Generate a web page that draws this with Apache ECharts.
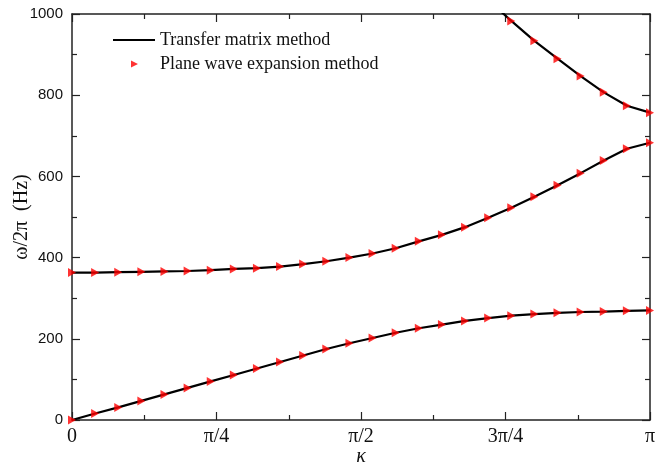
<!DOCTYPE html>
<html>
<head>
<meta charset="utf-8">
<title>Band structure</title>
<script src="https://cdn.jsdelivr.net/npm/echarts@6/dist/echarts.min.js"></script>
<style>
  html, body { margin: 0; padding: 0; background: #fff; }
  #chart { width: 672px; height: 466px; }
</style>
</head>
<body>
<div id="chart"></div>
<script>
// Wave number samples, in units of pi (0 .. 1, 26 points)
const kappaSteps = 25;
// Band frequencies (Hz) at each wave-number sample
const band1 = [0, 16, 31, 47, 63, 79, 95, 111, 127, 143, 159, 175, 189, 202, 215, 226, 235, 244, 251, 257, 261, 264, 266, 267, 269, 270];
const band2 = [363, 363, 364, 365, 366, 367, 369, 372, 374, 378, 384, 391, 400, 410, 423, 440, 456, 475, 498, 523, 550, 578, 608, 639, 668, 683];
const band3 = [null, null, null, null, null, null, null, null, null, null, null, null, null, null, null, null, null, null, 1035, 983, 934, 890, 847, 807, 774, 757];
// Tick labels on the wave-number axis
const kappaTickLabels = ['0', 'π/4', 'π/2', '3π/4', 'π'];
const lineName = 'Transfer matrix method';
const pointName = 'Plane wave expansion method';

function pairs(values) {
  const out = [];
  values.forEach(function (v, i) {
    if (v !== null) out.push([i / kappaSteps, v]);
  });
  return out;
}

const serif = 'Liberation Serif, Times New Roman, serif';
const sans = 'Liberation Sans, Arial, sans-serif';
const axisColor = '#222';
const triangle = 'path://M0,0L10,5L0,10Z';
// legend glyphs spanning the full 42x8 legend icon box
const legendLine = 'path://M0,0L0.01,0M0,3L42,3L42,5L0,5ZM42,8L41.99,8';
const legendTriangle = 'path://M0,0L0.01,0M18,0.5L25,4L18,7.5ZM42,8L41.99,8';

const tickStyle = { color: axisColor, width: 1.2 };
function xAxisBase(pos, labels) {
  return {
    type: 'value', position: pos, min: 0, max: 1, interval: 0.25,
    axisLine: { show: true, onZero: false, lineStyle: { color: axisColor, width: 1.5 } },
    axisTick: { show: true, inside: true, length: 8, lineStyle: tickStyle },
    minorTick: { show: true, splitNumber: 2, length: 5, lineStyle: tickStyle },
    splitLine: { show: false },
    axisLabel: labels ? {
      show: true, margin: 7, color: '#111', fontFamily: serif, fontSize: 20,
      formatter: function (v) { return kappaTickLabels[Math.round(v * 4)]; }
    } : { show: false }
  };
}
function yAxisBase(pos, labels) {
  return {
    type: 'value', position: pos, min: 0, max: 1000, interval: 200,
    axisLine: { show: true, onZero: false, lineStyle: { color: axisColor, width: 1.5 } },
    axisTick: { show: true, inside: true, length: 8, lineStyle: tickStyle },
    minorTick: { show: true, splitNumber: 2, length: 5, lineStyle: tickStyle },
    splitLine: { show: false },
    axisLabel: labels ? {
      show: true, margin: 9, color: '#111', fontFamily: sans, fontSize: 15,
      formatter: function (v) { return String(v); }
    } : { show: false }
  };
}

const xBottom = xAxisBase('bottom', true);
xBottom.name = 'κ';
xBottom.nameLocation = 'middle';
xBottom.nameGap = 27;
xBottom.nameMoveOverlap = false;
xBottom.nameTextStyle = { fontFamily: serif, fontStyle: 'italic', fontSize: 20, color: '#111' };

const yLeft = yAxisBase('left', true);
yLeft.name = 'ω/2π  (Hz)';
yLeft.nameLocation = 'middle';
yLeft.nameGap = 40;
yLeft.nameMoveOverlap = false;
yLeft.nameTextStyle = { fontFamily: serif, fontSize: 20, color: '#111' };

function lineSeries(values) {
  return {
    name: lineName, type: 'line', xAxisIndex: 0, yAxisIndex: 0,
    data: pairs(values), symbol: 'none', clip: true, z: 2,
    lineStyle: { color: '#000', width: 2.2 }, itemStyle: { color: '#000' }
  };
}
function pointSeries(values) {
  return {
    name: pointName, type: 'scatter', xAxisIndex: 0, yAxisIndex: 0,
    data: pairs(values), symbol: triangle, symbolSize: [8, 9], clip: true, z: 3,
    itemStyle: { color: '#ff0000' }
  };
}

const chart = echarts.init(document.getElementById('chart'), null, { renderer: 'canvas' });
chart.setOption({
  animation: false,
  backgroundColor: '#fff',
  grid: { left: 72, right: 22, top: 14, bottom: 46, containLabel: false, outerBoundsMode: 'none' },
  legend: {
    orient: 'vertical',
    left: 108, top: 26, padding: 5,
    itemWidth: 42, itemHeight: 8, itemGap: 6,
    symbolKeepAspect: false,
    data: [
      { name: lineName, icon: legendLine, itemStyle: { color: '#000' } },
      { name: pointName, icon: legendTriangle, itemStyle: { color: '#ff0000' } }
    ],
    textStyle: { fontFamily: serif, fontSize: 18, color: '#111' },
    selectedMode: false
  },
  xAxis: [xBottom, xAxisBase('top', false)],
  yAxis: [yLeft, yAxisBase('right', false)],
  series: [
    lineSeries(band1), lineSeries(band2), lineSeries(band3),
    pointSeries(band1), pointSeries(band2), pointSeries(band3)
  ]
});
</script>
</body>
</html>
